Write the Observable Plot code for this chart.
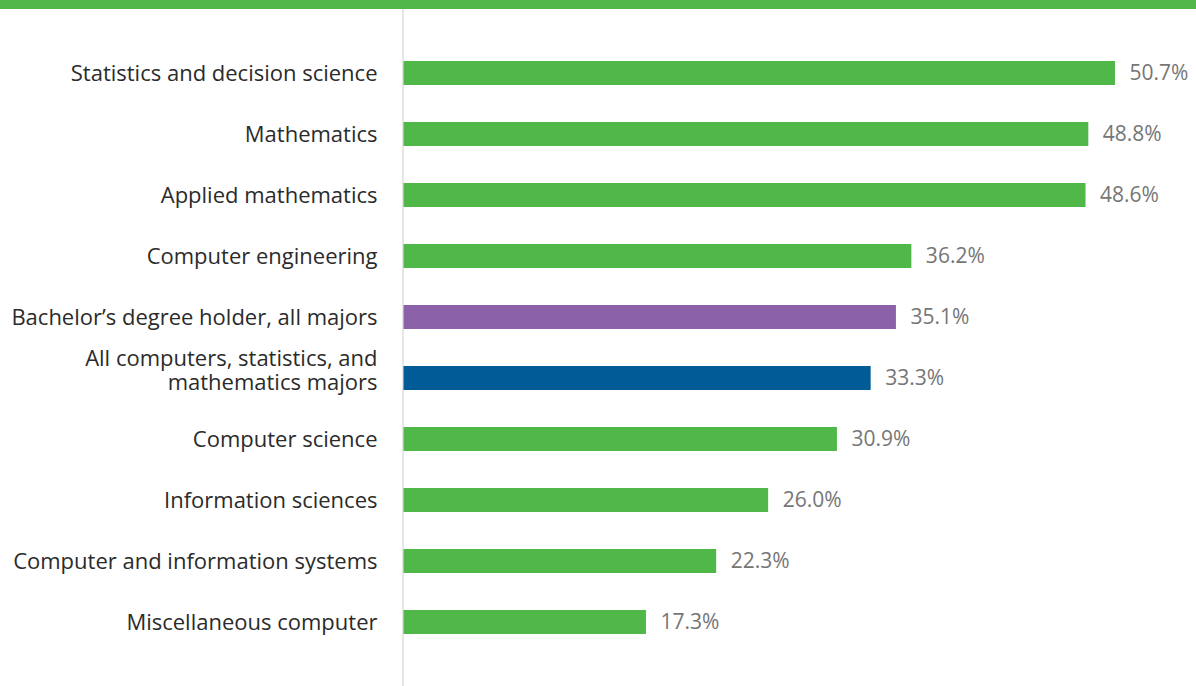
<!DOCTYPE html>
<html>
<head>
<meta charset="utf-8">
<script src="https://cdn.jsdelivr.net/npm/d3@7"></script>
<script src="https://cdn.jsdelivr.net/npm/@observablehq/plot@0.6"></script>
<style>
  html, body { margin: 0; padding: 0; background: #fff; }
  #band { height: 9px; background: #50b848; }
  #chart svg { display: block; }
</style>
</head>
<body>
<div id="band"></div>
<div id="chart"></div>
<script>
const categories = [
  "Statistics and decision science",
  "Mathematics",
  "Applied mathematics",
  "Computer engineering",
  "Bachelor’s degree holder, all majors",
  "All computers, statistics, and\nmathematics majors",
  "Computer science",
  "Information sciences",
  "Computer and information systems",
  "Miscellaneous computer"
];
const values = [50.7, 48.8, 48.6, 36.2, 35.1, 33.3, 30.9, 26.0, 22.3, 17.3];
const groups = ["major", "major", "major", "major", "all", "group", "major", "major", "major", "major"];

const data = categories.map((c, i) => ({category: c, value: values[i], group: groups[i]}));
const twoLine = categories.filter(c => c.includes("\n"));
const oneLine = categories.filter(c => !c.includes("\n"));

const font = "'Open Sans', sans-serif";

const chart = Plot.plot({
  width: 1196,
  height: 677,
  marginLeft: 403,
  marginRight: 81,
  marginTop: 0,
  marginBottom: 0,
  style: {fontFamily: font, background: "#fff"},
  x: {domain: [0, 50.7], axis: null},
  y: {domain: categories, range: [31.3, 645.7], paddingInner: 0.61, paddingOuter: 0.305, align: 0.5, axis: null},
  color: {domain: ["major", "all", "group"], range: ["#50b848", "#8b62a9", "#005b96"]},
  marks: [
    Plot.ruleX([0], {stroke: "#e6e6e6", strokeWidth: 2, dx: -0.5}),
    Plot.barX(data, {x: "value", y: "category", fill: "group", insetLeft: 0.5}),
    Plot.text(data, {x: "value", y: "category", text: d => d.value.toFixed(1) + "%", dx: 14, textAnchor: "start", fill: "#767676", fontSize: 21}),
    Plot.axisY({ticks: oneLine, tickSize: 0, tickPadding: 26, fontSize: 22, fill: "#2b2b2b", label: null}),
    Plot.axisY({ticks: twoLine, tickSize: 0, tickPadding: 26, fontSize: 22, fill: "#2b2b2b", label: null, lineHeight: 1.1, dy: -8})
  ]
});
document.getElementById("chart").appendChild(chart);
</script>
</body>
</html>
